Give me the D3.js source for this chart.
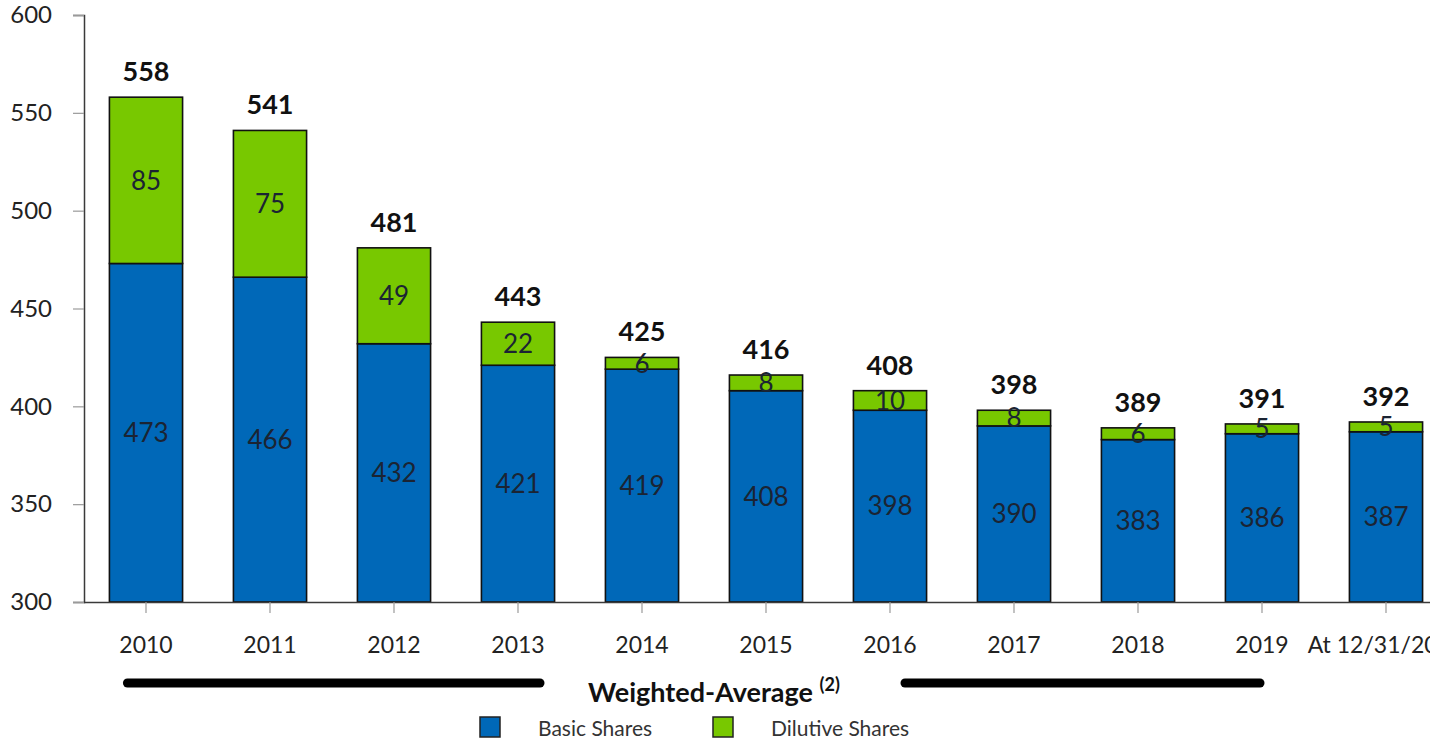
<!DOCTYPE html>
<html>
<head>
<meta charset="utf-8">
<script src="https://cdn.jsdelivr.net/npm/d3@7"></script>
<style>
  html, body { margin: 0; padding: 0; background: #fff; overflow: hidden; }
  svg { display: block; font-family: Lato, "Open Sans", sans-serif; }
</style>
</head>
<body>
<svg id="chart" width="1430" height="743"></svg>
<script>
// Share counts (millions) by period
const categories = ["2010", "2011", "2012", "2013", "2014", "2015", "2016", "2017", "2018", "2019", "At 12/31/2019"];
const basicShares = [473, 466, 432, 421, 419, 408, 398, 390, 383, 386, 387];
const dilutiveShares = [85, 75, 49, 22, 6, 8, 10, 8, 6, 5, 5];
const totals = [558, 541, 481, 443, 425, 416, 408, 398, 389, 391, 392];
const yTicks = [300, 350, 400, 450, 500, 550, 600];
const seriesNames = ["Basic Shares", "Dilutive Shares"];

const colors = { basic: "#0068b8", dilutive: "#78c800" };

const svg = d3.select("#chart");
const margin = { left: 84, top: 15, bottom: 602 };

const x = d3.scaleBand()
  .domain(categories)
  .range([margin.left, margin.left + categories.length * 124])
  .paddingInner(0.41)
  .paddingOuter(0.205);

const y = d3.scaleLinear().domain([300, 600]).range([margin.bottom, margin.top]);

const rows = categories.map((c, i) => ({ cat: c, basic: basicShares[i], dilutive: dilutiveShares[i], total: totals[i] }));
const stack = d3.stack().keys(["basic", "dilutive"]);
const layers = stack(rows);

// Stacked bars
const g = svg.append("g");
layers.forEach(layer => {
  g.selectAll(null)
    .data(layer)
    .join("rect")
    .attr("x", d => x(d.data.cat))
    .attr("y", d => y(d[1]))
    .attr("width", x.bandwidth())
    .attr("height", d => y(Math.max(300, d[0])) - y(d[1]))
    .attr("fill", colors[layer.key])
    .attr("stroke", "#111")
    .attr("stroke-width", 1.6);
});

// Segment values
layers.forEach(layer => {
  g.selectAll(null)
    .data(layer)
    .join("text")
    .attr("x", d => x(d.data.cat) + x.bandwidth() / 2)
    .attr("y", d => (y(Math.max(300, d[0])) + y(d[1])) / 2)
    .attr("dy", "0.36em")
    .attr("text-anchor", "middle")
    .attr("font-size", 26)
    .attr("fill", "#1b2433")
    .text(d => d.data[layer.key]);
});

// Totals above each bar
g.selectAll(null)
  .data(rows)
  .join("text")
  .attr("x", d => x(d.cat) + x.bandwidth() / 2)
  .attr("y", d => y(d.total) - 16)
  .attr("text-anchor", "middle")
  .attr("font-size", 27)
  .attr("font-weight", 700)
  .attr("fill", "#111")
  .text(d => d.total);

// Y axis
const yAxis = svg.append("g")
  .attr("transform", `translate(${margin.left},0)`)
  .call(d3.axisLeft(y).tickValues(yTicks).tickSize(11).tickPadding(21).tickFormat(d3.format("d")));
yAxis.select(".domain").attr("stroke", "#3a3a3a").attr("stroke-width", 1.5);
yAxis.selectAll(".tick line").attr("stroke", "#9a9a9a").attr("stroke-width", 1.2);
yAxis.selectAll(".tick text").attr("font-size", 24).attr("fill", "#222").attr("font-family", "Lato, sans-serif");

// X axis
const xAxis = svg.append("g")
  .attr("transform", `translate(0,${margin.bottom})`)
  .call(d3.axisBottom(x).tickSizeInner(11).tickSizeOuter(0).tickPadding(24));
xAxis.select(".domain").attr("stroke", "#3a3a3a").attr("stroke-width", 1.5)
  .attr("d", `M${margin.left},0.5H1440`);
xAxis.selectAll(".tick line").attr("stroke", "#9a9a9a").attr("stroke-width", 1.2);
xAxis.selectAll(".tick text").attr("font-size", 23).attr("fill", "#222").attr("font-family", "Lato, sans-serif");

// Weighted-average bracket
const bracketY = 683;
svg.append("line")
  .attr("x1", x("2010") + 18).attr("x2", 540)
  .attr("y1", bracketY).attr("y2", bracketY)
  .attr("stroke", "#000").attr("stroke-width", 9).attr("stroke-linecap", "round");
svg.append("line")
  .attr("x1", 905).attr("x2", x("2019") + x.bandwidth() / 2 - 2)
  .attr("y1", bracketY).attr("y2", bracketY)
  .attr("stroke", "#000").attr("stroke-width", 9).attr("stroke-linecap", "round");
const wa = svg.append("text")
  .attr("x", 588).attr("y", 702)
  .attr("font-size", 27).attr("font-weight", 700).attr("fill", "#111");
wa.append("tspan").text("Weighted-Average ");
wa.append("tspan").attr("font-size", 18).attr("dy", -11).text("(2)");

// Legend
const legend = svg.append("g").attr("transform", "translate(480,717)");
const legendItems = [
  { name: seriesNames[0], color: colors.basic, dx: 0 },
  { name: seriesNames[1], color: colors.dilutive, dx: 233 }
];
legendItems.forEach(it => {
  const lg = legend.append("g").attr("transform", `translate(${it.dx},0)`);
  lg.append("rect").attr("width", 20).attr("height", 20)
    .attr("fill", it.color).attr("stroke", "#222").attr("stroke-width", 1.5);
  lg.append("text").attr("x", 58).attr("y", 19)
    .attr("font-size", 21).attr("fill", "#333").text(it.name);
});
</script>
</body>
</html>
